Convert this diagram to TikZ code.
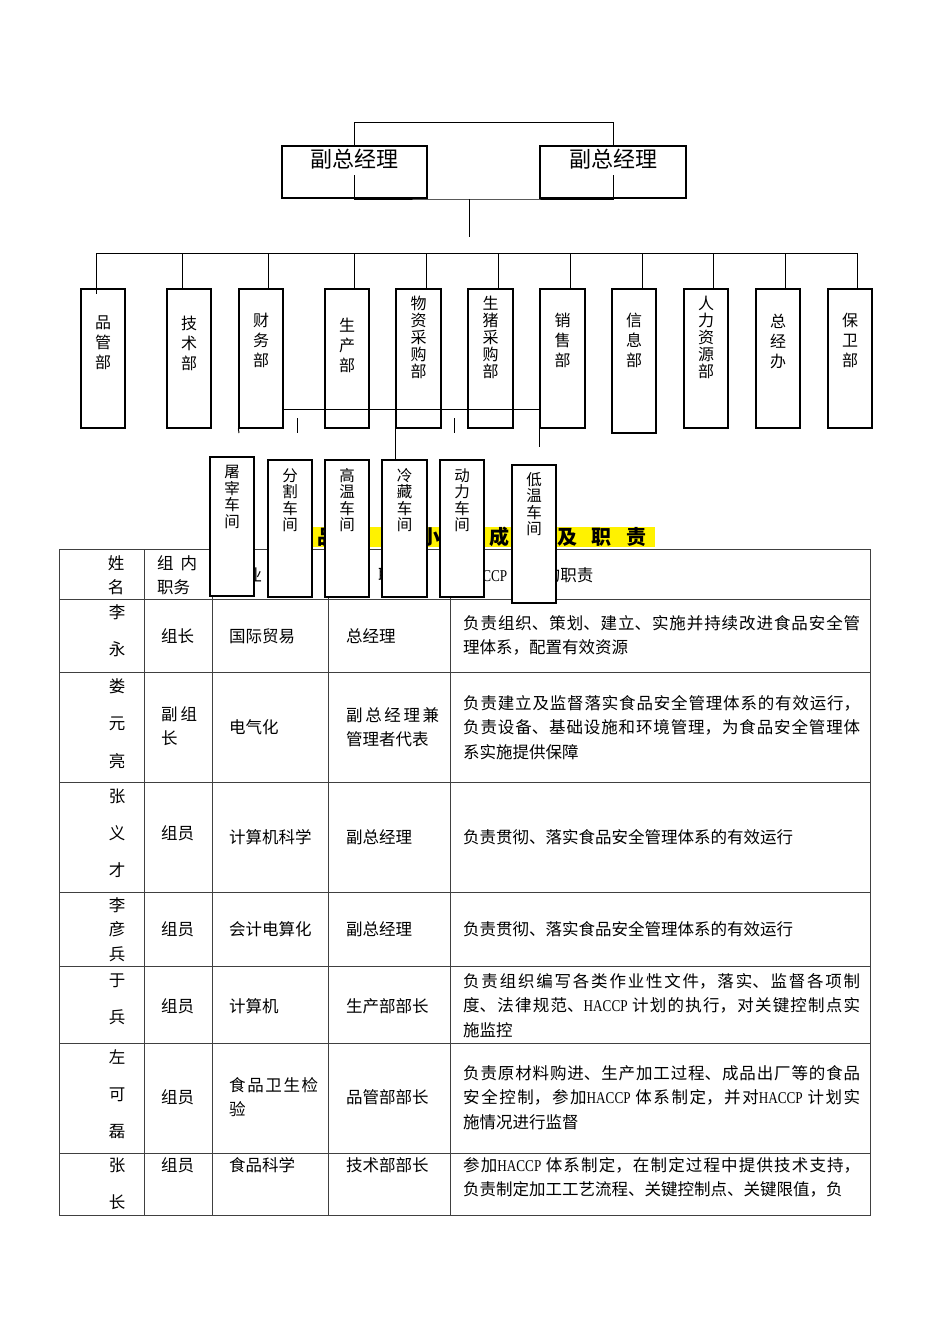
\documentclass[tikz,border=0pt]{standalone}
\usepackage{fontspec}
\setmainfont{Noto Sans CJK SC}
\newfontfamily\lat[FakeStretch=0.8]{Liberation Serif}
\XeTeXlinebreaklocale "zh"
\XeTeXlinebreakskip=0pt plus 3pt
\newcommand\ttgap{\hspace{14.3pt}}
\begin{document}
\begin{tikzpicture}[x=1pt,y=-1pt,
  bx/.style={draw, line width=1.2pt, fill=white, inner sep=0pt, minimum width=44pt, minimum height=139pt},
  cl/.style={line width=1pt},
  tl/.style={line width=0.9pt, black!75},
  vt3/.style={align=center, inner sep=0pt, font=\fontsize{16}{20}\selectfont},
  vt5/.style={align=center, inner sep=0pt, font=\fontsize{16}{17}\selectfont},
  vtw/.style={align=center, inner sep=0pt, font=\fontsize{15.5}{16.5}\selectfont},
  cell/.style={anchor=base west, inner sep=0pt, font=\fontsize{16.5}{24.5}\selectfont, align=left},
  jcell/.style={cell, text width=#1, align=justify},
  nm/.style={anchor=base, inner sep=0pt, text width=20pt, align=center, font=\fontsize{16.5}{37.5}\selectfont},
]
\fill[white] (0,0) rectangle (950,1344);
\useasboundingbox (0,0) rectangle (950,1344);

% ---------------- table ----------------
\draw[tl] (59,549) rectangle (870,1215);
\foreach \y in {599,672,782,892,966,1043,1153} \draw[tl] (59,\y) -- (870,\y);
\foreach \x in {144,212,328,450} \draw[tl] (\x,549) -- (\x,1215);

% header
\node[nm, font=\fontsize{16.5}{24}\selectfont] (h1) at (116,569) {姓\\名};
\node[jcell=40pt, font=\fontsize{16.5}{24}\selectfont] (h2) at (157,569) {组内\linebreak 职务};
\node[cell] (h3) at (229,581) {专业};
\node[cell] (h4) at (378,581) {职务};
\node[cell] (h5) at (463,581) {{\lat HACCP} 小组的职责};

% names
\node[nm] (n1) at (117,618) {李\\永};
\node[nm] (n2) at (117,692) {娄\\元\\亮};
\node[nm, font=\fontsize{16.5}{37}\selectfont] (n3) at (117,802) {张\\义\\才};
\node[nm, font=\fontsize{16.5}{24.5}\selectfont] (n4) at (117,911) {李\\彦\\兵};
\node[nm] (n5) at (117,986) {于\\兵};
\node[nm, font=\fontsize{16.5}{37}\selectfont] (n6) at (117,1063) {左\\可\\磊};
\node[nm] (n7) at (117,1171) {张\\长};

% column 2
\node[cell] (p1) at (161,642) {组长};
\node[jcell=36pt] (p2) at (161,720) {副组\linebreak 长};
\node[cell] (p3) at (161,839) {组员};
\node[cell] (p4) at (161,935) {组员};
\node[cell] (p5) at (161,1012) {组员};
\node[cell] (p6) at (161,1103) {组员};
\node[cell] (p7) at (161,1171) {组员};

% column 3
\node[cell] (q1) at (229,642) {国际贸易};
\node[cell] (q2) at (229,733) {电气化};
\node[cell] (q3) at (229,843) {计算机科学};
\node[cell] (q4) at (229,935) {会计电算化};
\node[cell] (q5) at (229,1012) {计算机};
\node[jcell=89pt] (q6) at (229,1091) {食品卫生检\linebreak 验};
\node[cell] (q7) at (229,1171) {食品科学};

% column 4
\node[cell] (s1) at (346,642) {总经理};
\node[jcell=93pt] (s2) at (346,721) {副总经理兼\linebreak 管理者代表};
\node[cell] (s3) at (346,843) {副总经理};
\node[cell] (s4) at (346,935) {副总经理};
\node[cell] (s5) at (346,1012) {生产部部长};
\node[cell] (s6) at (346,1103) {品管部部长};
\node[cell] (s7) at (346,1171) {技术部部长};

% column 5
\node[jcell=397pt] (t1) at (463,629) {负责组织、策划、建立、实施并持续改进食品安全管\linebreak 理体系，配置有效资源};
\node[jcell=397pt] (t2) at (463,709) {负责建立及监督落实食品安全管理体系的有效运行，\linebreak 负责设备、基础设施和环境管理，为食品安全管理体\linebreak 系实施提供保障};
\node[cell] (t3) at (463,843) {负责贯彻、落实食品安全管理体系的有效运行};
\node[cell] (t4) at (463,935) {负责贯彻、落实食品安全管理体系的有效运行};
\node[jcell=397pt] (t5) at (463,987) {负责组织编写各类作业性文件，落实、监督各项制\linebreak 度、法律规范、{\lat HACCP} 计划的执行，对关键控制点实\linebreak 施监控};
\node[jcell=397pt] (t6) at (463,1079) {负责原材料购进、生产加工过程、成品出厂等的食品\linebreak 安全控制，参加{\lat HACCP} 体系制定，并对{\lat HACCP} 计划实\linebreak 施情况进行监督};
\node[jcell=397pt] (t7) at (463,1171) {参加{\lat HACCP} 体系制定，在制定过程中提供技术支持，\linebreak 负责制定加工工艺流程、关键控制点、关键限值，负};

% ---------------- title band ----------------
\fill[yellow] (284,527) rectangle (655,547);
\node[anchor=base west, inner sep=0pt, font=\fontsize{20}{20}\selectfont\bfseries] (ttl) at (283,544) {食\ttgap 品\ttgap 安\ttgap 全\ttgap 小\ttgap 组\ttgap 成\ttgap 员\ttgap 及\ttgap 职\ttgap 责};

% ---------------- top managers ----------------
\node[bx, minimum width=145pt, minimum height=52pt] (m1) at (354.5,172) {};
\node[bx, minimum width=146pt, minimum height=52pt] (m2) at (613,172) {};
\node[inner sep=0pt, font=\fontsize{22}{22}\selectfont] (m1t) at (354.5,159) {副总经理};
\node[inner sep=0pt, font=\fontsize{22}{22}\selectfont] (m2t) at (613,159) {副总经理};
\coordinate (tt) at (0,122);
\draw[cl] (m1.north) -- (m1.north |- tt) -| (m2.north);
\coordinate (l1) at (354.5,175);
\coordinate (l2) at (613,175);
\coordinate (lj) at (469,199);
\coordinate (le) at (469,237);
\draw[cl] (l1) |- (lj) -| (l2);
\draw[cl] (lj) -- (le);

% ---------------- departments ----------------
\node[bx] (d1) at (103,358.5) {};
\node[bx] (d2) at (189,358.5) {};
\node[bx] (d3) at (261,358.5) {};
\node[bx] (d4) at (347,358.5) {};
\node[bx, minimum width=45pt] (d5) at (418.5,358.5) {};
\node[bx, minimum width=45pt] (d6) at (490.5,358.5) {};
\node[bx, minimum width=45pt] (d7) at (562.5,358.5) {};
\node[bx, minimum height=144pt] (d8) at (634,361) {};
\node[bx] (d9) at (706,358.5) {};
\node[bx] (d10) at (778,358.5) {};
\node[bx] (d11) at (850,358.5) {};

\node[vt3] (d1t) at (103,343) {品\\管\\部};
\node[vt3] (d2t) at (189,343) {技\\术\\部};
\node[vt3] (d3t) at (261,340) {财\\务\\部};
\node[vt3] (d4t) at (347,345) {生\\产\\部};
\node[vt5] (d5t) at (418.5,337) {物\\资\\采\\购\\部};
\node[vt5] (d6t) at (490.5,337) {生\\猪\\采\\购\\部};
\node[vt3] (d7t) at (562.5,340) {销\\售\\部};
\node[vt3] (d8t) at (634,340) {信\\息\\部};
\node[vt5] (d9t) at (706,337) {人\\力\\资\\源\\部};
\node[vt3] (d10t) at (778,341) {总\\经\\办};
\node[vt3] (d11t) at (850,340) {保\\卫\\部};

\coordinate (b1) at (96,253);
\coordinate (b2) at (182,253);
\coordinate (b3) at (268,253);
\coordinate (b4) at (354,253);
\coordinate (b5) at (426,253);
\coordinate (b6) at (498,253);
\coordinate (b7) at (570,253);
\coordinate (b8) at (642,253);
\coordinate (b9) at (713,253);
\coordinate (b10) at (785,253);
\coordinate (b11) at (857,253);
\draw[cl] (b1) -- (b11);
\draw[cl] (b1) -- ([yshift=-6pt]b1 |- d1.north);
\foreach \i in {2,...,11} \draw[cl] (b\i) -- (b\i |- d\i.north);

% ---------------- workshop connectors ----------------
\coordinate (wb) at (0,409);
\coordinate (wbe) at (0,447);
\draw[cl] (d3.east |- wb) -- (d7.west |- wb) -- (d7.west |- wbe);
\coordinate (k1a) at (297,418);
\coordinate (k1b) at (297,433);
\coordinate (k2a) at (454,418);
\coordinate (k2b) at (454,433);
\coordinate (k3) at (239,433);
\draw[cl] (k1a) -- (k1b);
\draw[cl] (k2a) -- (k2b);
\draw[cl] (d3.south west) -- (k3);

% ---------------- workshops ----------------
\node[bx] (w1) at (232,526.5) {};
\node[bx, minimum height=137pt] (w2) at (290,528.5) {};
\node[bx, minimum height=137pt] (w3) at (347,528.5) {};
\node[bx, minimum width=45pt, minimum height=137pt] (w4) at (404.5,528.5) {};
\node[bx, minimum height=137pt] (w5) at (462,528.5) {};
\node[bx, minimum height=138pt] (w6) at (534,534) {};
\draw[cl] (d5.south west) -- (d5.south west |- w4.north);

\node[vtw] (w1t) at (232,497) {屠\\宰\\车\\间};
\node[vtw] (w2t) at (290,500) {分\\割\\车\\间};
\node[vtw] (w3t) at (347,500) {高\\温\\车\\间};
\node[vtw] (w4t) at (404.5,500) {冷\\藏\\车\\间};
\node[vtw] (w5t) at (462,500) {动\\力\\车\\间};
\node[vtw] (w6t) at (534,504) {低\\温\\车\\间};
\end{tikzpicture}
\end{document}
